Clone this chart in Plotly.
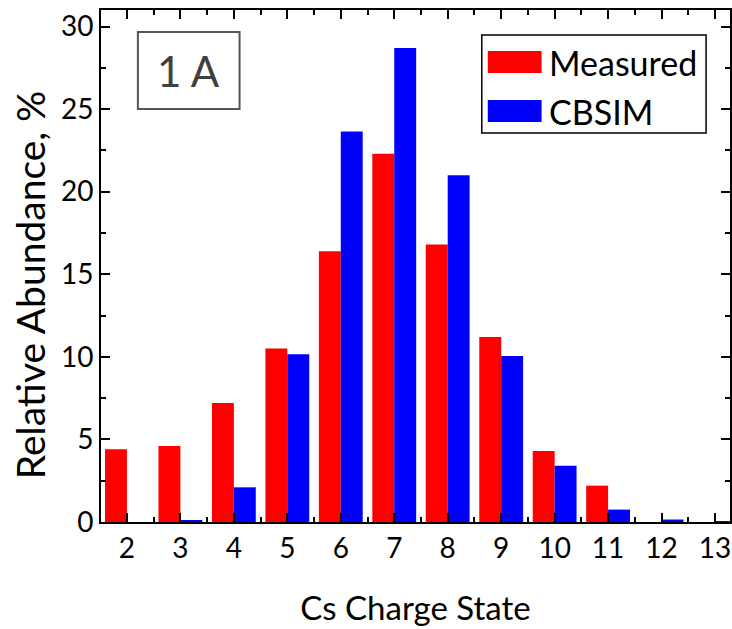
import plotly.graph_objects as go

charge_states = [2, 3, 4, 5, 6, 7, 8, 9, 10, 11, 12, 13]
measured = [4.4, 4.6, 7.2, 10.5, 16.4, 22.3, 16.8, 11.2, 4.3, 2.2, 0.0, 0.0]
cbsim = [0.0, 0.12, 2.1, 10.15, 23.65, 28.7, 21.0, 10.05, 3.4, 0.75, 0.15, 0.05]
series_names = ["Measured", "CBSIM"]
series_colors = ["#ff0000", "#0000ff"]

FONT = "Lato"
PL, PR, PT, PB = 101, 732, 10, 522

fig = go.Figure()
for name, vals, col in zip(series_names, [measured, cbsim], series_colors):
    fig.add_trace(go.Bar(x=charge_states, y=vals, name=name, marker_color=col,
                         marker_line_width=0, showlegend=False))

axis_common = dict(showline=True, linecolor="black", linewidth=2, mirror="allticks",
                   ticks="inside", ticklen=9, tickwidth=2, tickcolor="black",
                   showgrid=False, zeroline=False,
                   tickfont=dict(family=FONT, size=28, color="black"))

fig.update_layout(
    width=732, height=629,
    margin=dict(l=PL, r=732 - PR, t=PT, b=629 - PB),
    paper_bgcolor="white", plot_bgcolor="white",
    barmode="group", bargap=0.18, bargroupgap=0,
    xaxis=dict(range=[1.515, 13.28], tickmode="array", tickvals=charge_states,
               ticktext=[str(c) for c in charge_states],
               minor=dict(ticks="inside", ticklen=5, tickwidth=2, tickcolor="black", dtick=1, tick0=1.5),
               title=dict(text="Cs Charge State", font=dict(family=FONT, size=33, color="black"), standoff=34),
               **axis_common),
    yaxis=dict(range=[0, 31], tickmode="linear", tick0=0, dtick=5,
               minor=dict(ticks="inside", ticklen=5, tickwidth=2, tickcolor="black", dtick=2.5),
               **axis_common),
)

def px_x(p):
    return (p - PL) / (PR - PL)

def px_y(p):
    return (PB - p) / (PB - PT)

# y axis title
fig.add_annotation(xref="paper", yref="paper", x=px_x(30), y=px_y(285),
                   xanchor="center", yanchor="middle", textangle=-90,
                   text="Relative Abundance, %", showarrow=False,
                   font=dict(family=FONT, size=39, color="black"))

# "1 A" label box
fig.add_shape(type="rect", xref="paper", yref="paper", x0=px_x(138), x1=px_x(240),
              y0=px_y(109), y1=px_y(32), line=dict(color="#555555", width=2), fillcolor="white")
fig.add_annotation(xref="paper", yref="paper", x=px_x(189), y=px_y(71),
                   xanchor="center", yanchor="middle",
                   text="1 A", showarrow=False, font=dict(family=FONT, size=42, color="#404040"))

# legend box
fig.add_shape(type="rect", xref="paper", yref="paper", x0=px_x(483), x1=px_x(708),
              y0=px_y(133), y1=px_y(35), line=dict(color="black", width=1.5), fillcolor="white")
for i, (name, col) in enumerate(zip(series_names, series_colors)):
    yc = 62 + i * 49
    fig.add_shape(type="rect", xref="paper", yref="paper", x0=px_x(489), x1=px_x(543),
                  y0=px_y(yc + 11), y1=px_y(yc - 11), line=dict(width=0), fillcolor=col)
    fig.add_annotation(xref="paper", yref="paper", x=px_x(548), y=px_y(yc), xanchor="left",
                       yanchor="middle", text=name, showarrow=False,
                       font=dict(family=FONT, size=34, color="black"))

fig.write_html("out.html")
